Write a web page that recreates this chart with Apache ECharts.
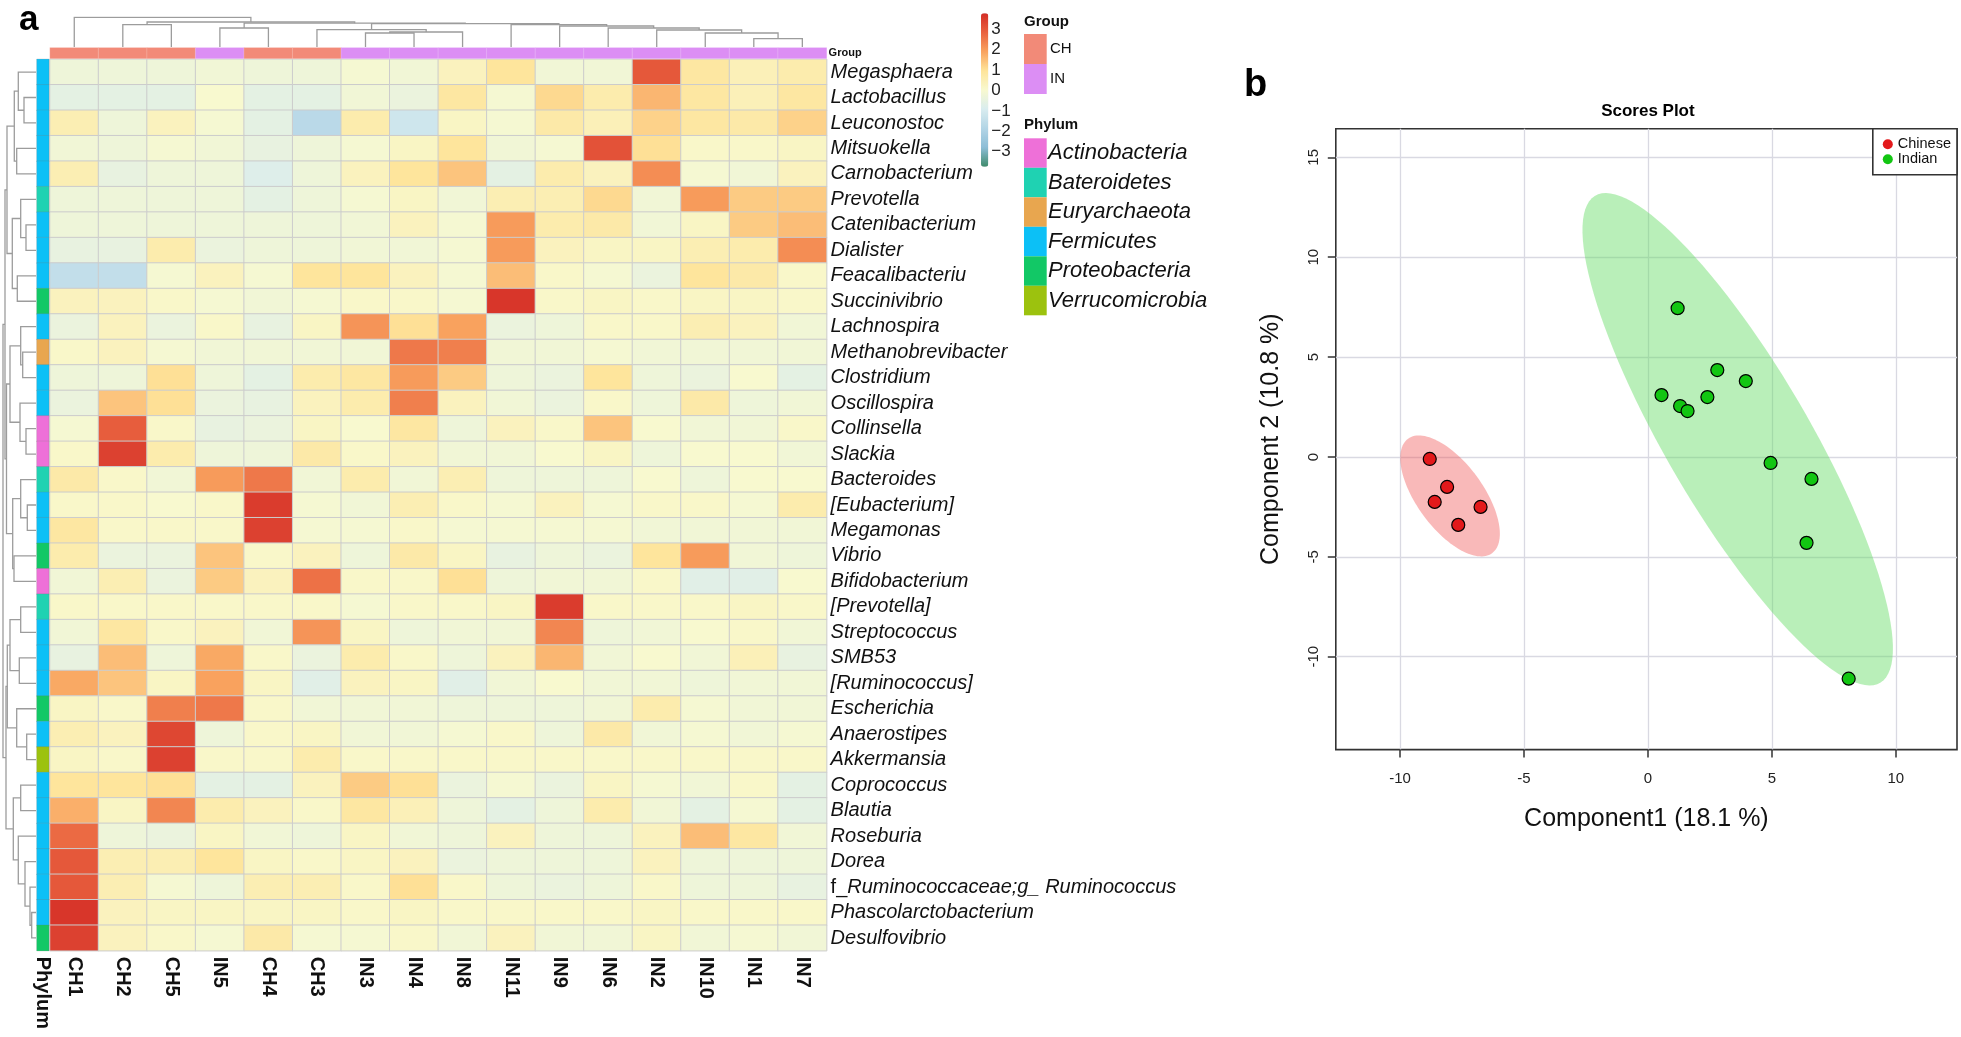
<!DOCTYPE html>
<html>
<head>
<meta charset="utf-8">
<title>Heatmap and scores plot</title>
<script src="https://cdn.jsdelivr.net/npm/echarts@6.0.0/dist/echarts.min.js"></script>
<style>
html, body { margin: 0; padding: 0; background: #fff; }
#main { width: 1961px; height: 1037px; }
</style>
</head>
<body>
<div id="main"></div>
<script>
// ---- heatmap data ----
var colNames = ["CH1", "CH2", "CH5", "IN5", "CH4", "CH3", "IN3", "IN4", "IN8", "IN11", "IN9", "IN6", "IN2", "IN10", "IN1", "IN7"];
var colGroup = [0, 0, 0, 1, 0, 0, 1, 1, 1, 1, 1, 1, 1, 1, 1, 1];
var groupNames = ["CH", "IN"];
var groupColors = ["#f28a78", "#dc8ef4"];

var rowNames = ["Megasphaera", "Lactobacillus", "Leuconostoc", "Mitsuokella", "Carnobacterium", "Prevotella",
  "Catenibacterium", "Dialister", "Feacalibacterium", "Succinivibrio", "Lachnospira", "Methanobrevibacter",
  "Clostridium", "Oscillospira", "Collinsella", "Slackia", "Bacteroides", "[Eubacterium]", "Megamonas", "Vibrio",
  "Bifidobacterium", "[Prevotella]", "Streptococcus", "SMB53", "[Ruminococcus]", "Escherichia", "Anaerostipes",
  "Akkermansia", "Coprococcus", "Blautia", "Roseburia", "Dorea", "f_Ruminococcaceae;g_ Ruminococcus",
  "Phascolarctobacterium", "Desulfovibrio"];
// 0 Actinobacteria, 1 Bateroidetes, 2 Euryarchaeota, 3 Fermicutes, 4 Proteobacteria, 5 Verrucomicrobia
var rowPhylum = [3, 3, 3, 3, 3, 1, 3, 3, 3, 4, 3, 2, 3, 3, 0, 0, 1, 3, 3, 4, 0, 1, 3, 3, 3, 4, 3, 5, 3, 3, 3, 3, 3, 3, 4];
var phylumNames = ["Actinobacteria", "Bateroidetes", "Euryarchaeota", "Fermicutes", "Proteobacteria", "Verrucomicrobia"];
var phylumColors = ["#ee70d8", "#1fd2b2", "#e8a64f", "#0cc0f6", "#12c866", "#9cc20e"];

var zScores = [
  [-0.3, -0.3, -0.3, -0.2, -0.3, -0.3, -0.1, -0.2, 0.3, 0.9, -0.2, -0.2, 3.0, 0.8, 0.4, 0.6],
  [-0.6, -0.6, -0.6, 0.0, -0.6, -0.6, -0.2, -0.4, 0.8, -0.1, 1.1, 0.6, 1.6, 0.8, 0.4, 0.8],
  [0.5, -0.3, 0.3, -0.1, -0.6, -1.7, 0.6, -1.2, 0.2, -0.1, 0.7, 0.4, 1.2, 0.8, 0.7, 1.2],
  [-0.2, -0.3, -0.1, -0.2, -0.5, -0.3, -0.1, 0.2, 0.9, -0.2, -0.1, 3.1, 1.0, 0.1, 0.1, 0.2],
  [0.5, -0.5, -0.3, -0.3, -0.8, -0.3, 0.3, 0.9, 1.4, -0.6, 0.6, 0.3, 2.2, -0.1, -0.2, 0.3],
  [-0.3, -0.3, -0.3, -0.3, -0.6, -0.3, -0.1, 0.2, -0.2, 0.5, 0.5, 1.1, -0.2, 2.0, 1.3, 1.3],
  [-0.3, -0.3, -0.3, -0.3, -0.3, -0.3, -0.2, 0.3, -0.1, 2.0, 0.6, 0.7, -0.2, 0.2, 1.3, 1.5],
  [-0.5, -0.5, 0.6, -0.4, -0.3, -0.3, -0.2, -0.2, -0.1, 2.0, 0.3, 0.2, 0.2, 0.5, 0.6, 2.2],
  [-1.5, -1.5, -0.1, 0.3, -0.1, 0.9, 0.9, 0.3, -0.1, 1.5, 0.1, -0.1, -0.4, 0.9, 0.7, 0.1],
  [0.3, 0.3, 0.1, -0.1, -0.2, -0.1, 0.1, 0.1, -0.1, 3.6, 0.1, 0.2, 0.1, 0.2, 0.2, 0.1],
  [-0.4, 0.3, -0.4, 0.1, -0.5, 0.2, 2.1, 1.0, 1.9, -0.4, -0.3, 0.1, 0.1, 0.5, 0.3, -0.2],
  [0.1, 0.3, -0.1, -0.2, -0.2, -0.2, -0.2, 2.5, 2.4, -0.2, -0.2, -0.1, -0.2, -0.2, -0.2, -0.2],
  [-0.3, -0.3, 1.0, -0.3, -0.6, 0.6, 0.8, 2.0, 1.3, -0.3, -0.4, 0.9, -0.3, -0.4, 0.0, -0.6],
  [-0.4, 1.4, 1.0, -0.4, -0.5, 0.3, 0.6, 2.4, 0.3, -0.2, -0.4, 0.1, -0.3, 0.7, -0.3, -0.2],
  [-0.1, 2.9, 0.1, -0.5, -0.4, 0.2, 0.0, 0.8, -0.3, 0.3, 0.1, 1.4, 0.0, -0.2, -0.2, 0.1],
  [0.1, 3.4, 0.6, -0.3, -0.3, 0.7, 0.1, 0.3, -0.2, -0.2, 0.0, 0.2, -0.3, 0.0, 0.0, -0.2],
  [0.7, 0.1, -0.2, 2.0, 2.5, -0.2, 0.6, -0.2, 0.5, -0.3, -0.3, -0.3, 0.0, -0.3, 0.0, 0.0],
  [0.1, 0.1, 0.0, 0.1, 3.5, -0.1, -0.2, 0.5, 0.1, -0.1, 0.3, -0.1, 0.1, 0.1, -0.1, 0.6],
  [0.8, 0.1, 0.1, 0.1, 3.4, -0.1, -0.1, 0.1, -0.1, -0.1, -0.1, -0.1, -0.2, -0.2, -0.2, -0.2],
  [0.6, -0.4, -0.4, 1.4, 0.1, 0.3, -0.3, 0.7, 0.2, -0.5, -0.3, -0.4, 0.9, 2.0, -0.2, -0.3],
  [-0.2, 0.5, -0.4, 1.3, 0.3, 2.6, 0.1, 0.1, 1.0, -0.3, -0.2, -0.2, 0.1, -0.7, -0.7, 0.0],
  [0.1, 0.1, 0.1, 0.1, 0.1, 0.1, -0.1, 0.1, 0.1, 0.2, 3.5, 0.1, 0.1, 0.1, 0.2, 0.1],
  [-0.2, 0.8, 0.1, 0.3, -0.2, 2.1, 0.2, -0.3, -0.2, -0.2, 2.3, -0.3, -0.2, 0.0, 0.1, -0.2],
  [-0.5, 1.5, -0.3, 1.8, 0.1, -0.4, 0.6, 0.1, -0.3, 0.3, 1.6, -0.2, 0.0, -0.2, 0.4, -0.5],
  [1.8, 1.4, 0.2, 1.9, 0.2, -0.7, 0.3, 0.2, -0.7, -0.2, 0.0, -0.2, -0.2, -0.3, -0.2, -0.2],
  [0.2, 0.1, 2.4, 2.5, 0.1, -0.2, -0.2, -0.2, -0.3, -0.3, -0.3, -0.2, 0.6, -0.1, -0.2, -0.2],
  [0.5, 0.3, 3.3, -0.3, 0.1, 0.2, -0.2, -0.2, -0.1, 0.1, -0.3, 0.7, -0.2, -0.1, -0.2, -0.1],
  [0.2, 0.1, 3.4, 0.1, 0.1, 0.6, 0.1, 0.1, 0.1, 0.1, 0.1, 0.1, 0.1, 0.1, 0.1, 0.1],
  [0.9, 0.9, 1.0, -0.6, -0.6, 0.3, 1.3, 1.0, -0.4, -0.1, -0.4, 0.2, -0.1, -0.2, 0.1, -0.6],
  [1.7, 0.2, 2.3, 0.6, 0.3, 0.1, 0.8, 0.4, -0.3, -0.6, -0.3, 0.6, -0.2, -0.6, -0.1, -0.6],
  [2.7, -0.3, -0.4, 0.2, -0.2, -0.3, 0.2, -0.2, -0.3, 0.3, -0.3, -0.3, 0.3, 1.5, 0.8, -0.2],
  [3.0, 0.5, 0.5, 0.9, 0.2, 0.1, 0.2, 0.3, -0.4, -0.3, -0.3, -0.3, 0.3, -0.3, -0.3, -0.3],
  [3.0, 0.5, -0.1, -0.3, 0.5, 0.5, 0.1, 1.0, 0.1, -0.3, -0.4, -0.3, 0.1, -0.3, -0.3, -0.5],
  [3.6, 0.3, 0.2, 0.2, 0.2, 0.2, 0.1, 0.2, 0.1, 0.1, 0.1, 0.1, 0.2, 0.1, 0.1, 0.1],
  [3.4, 0.3, 0.1, -0.1, 0.7, -0.1, -0.1, 0.1, -0.2, 0.3, -0.2, -0.2, 0.2, -0.2, -0.1, -0.2]
];

// dendrograms: [left, right, height], negative = leaf (display order, 1-based), positive = earlier merge
var colMerges = [
  [-15, -16, 8.3], [-14, 1, 14], [-13, 2, 17], [-12, 3, 19], [-11, 4, 21], [-10, 5, 22.3],
  [-7, -8, 14], [7, -9, 15], [-6, 8, 17.3], [9, 6, 23.3], [-4, -5, 19], [11, 10, 23.8],
  [-2, -3, 22.3], [13, 12, 25], [-1, 14, 29.7]
];
var rowMerges = [
  [-2, -3, 12], [-1, 1, 17.7], [-4, -5, 19.3], [2, 3, 21.7], [-7, -8, 10], [-6, 5, 15.3],
  [-9, -10, 18.7], [6, 7, 23.7], [4, 8, 29], [-12, -13, 13.3], [-11, 10, 15.3], [-15, -16, 10],
  [-14, 12, 16], [11, 13, 26], [-18, -19, 8.7], [-17, 15, 15.3], [-20, -21, 22], [16, 17, 23.3],
  [14, 18, 29.5], [9, 19, 31], [-22, -23, 15.3], [-24, -25, 16.7], [21, 22, 26], [-27, -28, 9.3],
  [-26, 24, 19.3], [23, 25, 28.7], [-34, -35, 4.3], [-33, 27, 6], [-32, 28, 11], [-31, 29, 17.7],
  [-29, -30, 15.3], [31, 30, 22.7], [26, 32, 30], [20, 33, 33]
];

var keyTicks = [3, 2, 1, 0, -1, -2, -3];

// ---- scores plot data ----
var chineseX = [-8.8, -8.1, -8.6, -6.75, -7.65];
var chineseY = [-0.1, -1.5, -2.25, -2.5, -3.4];
var indianX = [1.2, 2.8, 3.95, 0.55, 2.4, 1.3, 1.6, 4.95, 6.6, 6.4, 8.1];
var indianY = [7.45, 4.35, 3.8, 3.1, 3.0, 2.55, 2.3, -0.3, -1.1, -4.3, -11.1];
var xTicks = [-10, -5, 0, 5, 10];
var yTicks = [-10, -5, 0, 5, 10, 15];

var FONT = "'Liberation Sans', Arial, sans-serif";

function dendroSegments(merges, flip) {
  var pos = [], ht = [], segs = [];
  function node(k) {
    return k < 0 ? { p: -k - 0.5, h: 0 } : { p: pos[k - 1], h: ht[k - 1] };
  }
  merges.forEach(function (m, i) {
    var a = node(m[0]), b = node(m[1]), h = m[2];
    var pts = [[a.p, a.h], [a.p, h], [b.p, h], [b.p, b.h]];
    if (flip) pts = pts.map(function (q) { return [q[1], q[0]]; });
    segs.push({ coords: pts });
    pos[i] = (a.p + b.p) / 2;
    ht[i] = h;
  });
  return segs;
}

// 95% confidence ellipse from the points (chi-square, 2 df)
function confEllipse(xs, ys) {
  var n = xs.length, mx = 0, my = 0, sxx = 0, syy = 0, sxy = 0;
  for (var i = 0; i < n; i++) { mx += xs[i] / n; my += ys[i] / n; }
  for (i = 0; i < n; i++) {
    sxx += (xs[i] - mx) * (xs[i] - mx) / (n - 1);
    syy += (ys[i] - my) * (ys[i] - my) / (n - 1);
    sxy += (xs[i] - mx) * (ys[i] - my) / (n - 1);
  }
  var tr = sxx + syy, det = sxx * syy - sxy * sxy;
  var l1 = tr / 2 + Math.sqrt(tr * tr / 4 - det), l2 = tr / 2 - Math.sqrt(tr * tr / 4 - det);
  var ang = Math.atan2(l1 - sxx, sxy);
  var c = 5.991, a = Math.sqrt(c * l1), b = Math.sqrt(c * l2), pts = [];
  for (var k = 0; k < 120; k++) {
    var t = k / 120 * Math.PI * 2;
    var ex = a * Math.cos(t), ey = b * Math.sin(t);
    pts.push([mx + ex * Math.cos(ang) - ey * Math.sin(ang), my + ex * Math.sin(ang) + ey * Math.cos(ang)]);
  }
  return pts;
}

var heatData = [];
zScores.forEach(function (row, r) {
  row.forEach(function (v, c) { heatData.push([c, r, v]); });
});
var groupData = colGroup.map(function (g, c) { return [c, 0, g]; });
var phylumData = rowPhylum.map(function (p, r) { return [0, r, p]; });

var rowAxisData = rowNames.map(function (n, i) {
  if (i < 10) return { value: n, textStyle: { width: 150, overflow: "truncate", ellipsis: " " } };
  return n;
});

var chineseEll = confEllipse(chineseX, chineseY);
var indianEll = confEllipse(indianX, indianY);

function ellipseSeries(name, pts, fill) {
  return {
    name: name + " region", type: "custom", xAxisIndex: 6, yAxisIndex: 6, silent: true, z: 1,
    data: [[pts[0][0], pts[0][1]]],
    renderItem: function (params, api) {
      return {
        type: "polygon",
        shape: { points: pts.map(function (p) { return api.coord(p); }) },
        style: { fill: fill, stroke: null }
      };
    }
  };
}

// heatmap legend built from the group / phylum lists
var legendGraphics = [
  { type: "text", left: 19, top: 3, style: { text: "a", font: "bold 35px " + FONT, fill: "#000" } },
  { type: "text", x: 1244, y: 86, style: { text: "b", font: "bold 38px " + FONT, fill: "#000", verticalAlign: "middle" } },
  { type: "text", x: 1647.9, y: 111, style: { text: "Scores Plot", font: "bold 17px " + FONT, fill: "#000", align: "center", verticalAlign: "middle" } },
  { type: "text", x: 1024, y: 22, style: { text: "Group", font: "bold 15px " + FONT, fill: "#111", verticalAlign: "middle" } },
  { type: "text", x: 1024, y: 125, style: { text: "Phylum", font: "bold 15px " + FONT, fill: "#111", verticalAlign: "middle" } }
];
groupNames.forEach(function (g, i) {
  legendGraphics.push({ type: "rect", shape: { x: 1024, y: 34 + i * 30, width: 22.7, height: 30 }, style: { fill: groupColors[i] } });
  legendGraphics.push({ type: "text", x: 1050, y: 49 + i * 30, style: { text: g, font: "15px " + FONT, fill: "#111", verticalAlign: "middle" } });
});
phylumNames.forEach(function (p, i) {
  legendGraphics.push({ type: "rect", shape: { x: 1024, y: 138.3 + i * 29.5, width: 22.7, height: 29.5 }, style: { fill: phylumColors[i] } });
  legendGraphics.push({ type: "text", x: 1048, y: 153 + i * 29.5, style: { text: p, font: "italic 22px " + FONT, fill: "#111", verticalAlign: "middle" } });
});

var chart = echarts.init(document.getElementById("main"), null, { renderer: "canvas" });

var hidden = { show: false };
var option = {
  backgroundColor: "#fff",
  animation: false,
  textStyle: { fontFamily: FONT },
  graphic: legendGraphics,
  grid: [
    { left: 50, top: 59.3, width: 776.6, height: 891.4 },
    { left: 50, top: 47.7, width: 776.6, height: 10.8 },
    { left: 36.9, top: 59.3, width: 11.9, height: 891.4 },
    { left: 50, top: 17, width: 776.6, height: 30 },
    { left: 3, top: 59.3, width: 33, height: 891.4 },
    { left: 981, top: 29.3, width: 7.3, height: 122.4 },
    { left: 1335.8, top: 128.8, width: 621.2, height: 620.8, show: true, borderColor: "#333", borderWidth: 1.6, backgroundColor: "transparent" }
  ],
  xAxis: [
    {
      gridIndex: 0, type: "category", data: colNames, position: "bottom",
      axisLine: hidden, axisTick: hidden, splitLine: hidden,
      axisLabel: { interval: 0, rotate: -90, margin: 6, fontSize: 20, fontWeight: "bold", color: "#111" }
    },
    { gridIndex: 1, type: "category", data: colNames, show: false },
    {
      gridIndex: 2, type: "category", data: ["Phylum"], position: "bottom",
      axisLine: hidden, axisTick: hidden,
      axisLabel: { interval: 0, rotate: -90, margin: 6, fontSize: 20, fontWeight: "bold", color: "#111" }
    },
    { gridIndex: 3, type: "value", min: 0, max: 16, show: false },
    { gridIndex: 4, type: "value", min: 0, max: 33, inverse: true, show: false },
    { gridIndex: 5, type: "value", min: 0, max: 1, show: false },
    {
      gridIndex: 6, type: "value", min: -12.59, max: 12.47, position: "bottom",
      name: "Component1 (18.1 %)", nameLocation: "middle", nameGap: 57,
      nameTextStyle: { fontSize: 25, color: "#111" },
      axisLine: { show: false, onZero: false },
      axisTick: { show: true, length: 8, customValues: xTicks, lineStyle: { color: "#333", width: 1.5 } },
      axisLabel: { customValues: xTicks, fontSize: 15, color: "#222", margin: 22 },
      splitLine: { show: true, lineStyle: { color: "#d9d9e2", width: 1.3 } }
    }
  ],
  yAxis: [
    {
      gridIndex: 0, type: "category", data: rowAxisData, inverse: true, position: "right",
      axisLine: hidden, axisTick: hidden, splitLine: hidden,
      axisLabel: {
        interval: 0, margin: 4, fontSize: 20, fontStyle: "italic", color: "#111",
        formatter: function (v) { return v.indexOf("f_") === 0 ? "{up|f_}" + v.slice(2) : v; },
        rich: { up: { fontStyle: "normal", fontSize: 20, color: "#111" } }
      }
    },
    {
      gridIndex: 1, type: "category", data: ["Group"], position: "right",
      axisLine: hidden, axisTick: hidden,
      axisLabel: { margin: 2, fontSize: 11, fontWeight: "bold", color: "#111" }
    },
    { gridIndex: 2, type: "category", data: rowNames, inverse: true, show: false },
    { gridIndex: 3, type: "value", min: 0, max: 30, show: false },
    { gridIndex: 4, type: "value", min: 0, max: 35, inverse: true, show: false },
    {
      gridIndex: 5, type: "value", min: -3, max: 3, interval: 1, position: "right",
      axisLine: hidden, axisTick: hidden, splitLine: hidden,
      axisLabel: {
        margin: 3, fontSize: 17, color: "#222",
        formatter: function (v) { return v < 0 ? "\u2212" + Math.abs(v) : String(v); }
      }
    },
    {
      gridIndex: 6, type: "value", min: -14.65, max: 16.43, position: "left",
      name: "Component 2 (10.8 %)", nameLocation: "middle", nameGap: 52,
      nameTextStyle: { fontSize: 25, color: "#111" },
      axisLine: { show: false, onZero: false },
      axisTick: { show: true, length: 8, customValues: yTicks, lineStyle: { color: "#333", width: 1.5 } },
      axisLabel: { customValues: yTicks, rotate: 90, fontSize: 15, color: "#222", margin: 14 },
      splitLine: { show: true, lineStyle: { color: "#d9d9e2", width: 1.3 } }
    }
  ],
  visualMap: [
    {
      type: "continuous", seriesIndex: 0, min: -3.76, max: 3.76,
      left: 981, top: 13.3, padding: 0, itemWidth: 7.3, itemHeight: 153.4,
      calculable: false, hoverLink: false,
      inRange: { color: ["#3f8b6c", "#8cbdd6", "#b3d5e6", "#d9ecef", "#f8f9cf", "#fee49a", "#f9a35f", "#e9623f", "#d42d26"] }
    },
    {
      type: "piecewise", seriesIndex: 1, show: false,
      pieces: groupNames.map(function (g, i) { return { value: i, color: groupColors[i] }; })
    },
    {
      type: "piecewise", seriesIndex: 2, show: false,
      pieces: phylumNames.map(function (p, i) { return { value: i, color: phylumColors[i] }; })
    }
  ],
  legend: {
    data: ["Chinese", "Indian"], orient: "vertical", right: 4, top: 128.8,
    padding: [8, 6, 8, 10], itemGap: 0, itemWidth: 10, itemHeight: 10, icon: "circle",
    backgroundColor: "#fff", borderColor: "#333", borderWidth: 1.6, borderRadius: 0,
    itemStyle: { borderWidth: 0 },
    textStyle: { fontSize: 14.5, color: "#111" }
  },
  series: [
    {
      name: "z-score", type: "heatmap", xAxisIndex: 0, yAxisIndex: 0, data: heatData,
      itemStyle: { borderColor: "#cccccc", borderWidth: 1 }, silent: true
    },
    {
      name: "Group", type: "heatmap", xAxisIndex: 1, yAxisIndex: 1, data: groupData,
      itemStyle: { borderColor: "rgba(255,255,255,0.35)", borderWidth: 0.6 }, silent: true
    },
    {
      name: "Phylum", type: "heatmap", xAxisIndex: 2, yAxisIndex: 2, data: phylumData,
      itemStyle: { borderColor: "rgba(120,120,120,0.35)", borderWidth: 0.6 }, silent: true
    },
    {
      name: "col tree", type: "lines", coordinateSystem: "cartesian2d", xAxisIndex: 3, yAxisIndex: 3,
      polyline: true, silent: true, data: dendroSegments(colMerges, false),
      lineStyle: { color: "#9c9c9c", width: 1.3, opacity: 1 }
    },
    {
      name: "row tree", type: "lines", coordinateSystem: "cartesian2d", xAxisIndex: 4, yAxisIndex: 4,
      polyline: true, silent: true, data: dendroSegments(rowMerges, true),
      lineStyle: { color: "#9c9c9c", width: 1.3, opacity: 1 }
    },
    ellipseSeries("Chinese", chineseEll, "rgba(240,80,80,0.4)"),
    ellipseSeries("Indian", indianEll, "rgba(100,220,100,0.45)"),
    {
      name: "Chinese", type: "scatter", xAxisIndex: 6, yAxisIndex: 6, symbolSize: 13, z: 3,
      data: chineseX.map(function (x, i) { return [x, chineseY[i]]; }),
      itemStyle: { color: "#e3191b", borderColor: "#000", borderWidth: 1.2, opacity: 1 }
    },
    {
      name: "Indian", type: "scatter", xAxisIndex: 6, yAxisIndex: 6, symbolSize: 13, z: 3,
      data: indianX.map(function (x, i) { return [x, indianY[i]]; }),
      itemStyle: { color: "#12c612", borderColor: "#000", borderWidth: 1.2, opacity: 1 }
    }
  ]
};

chart.setOption(option);
</script>
</body>
</html>
